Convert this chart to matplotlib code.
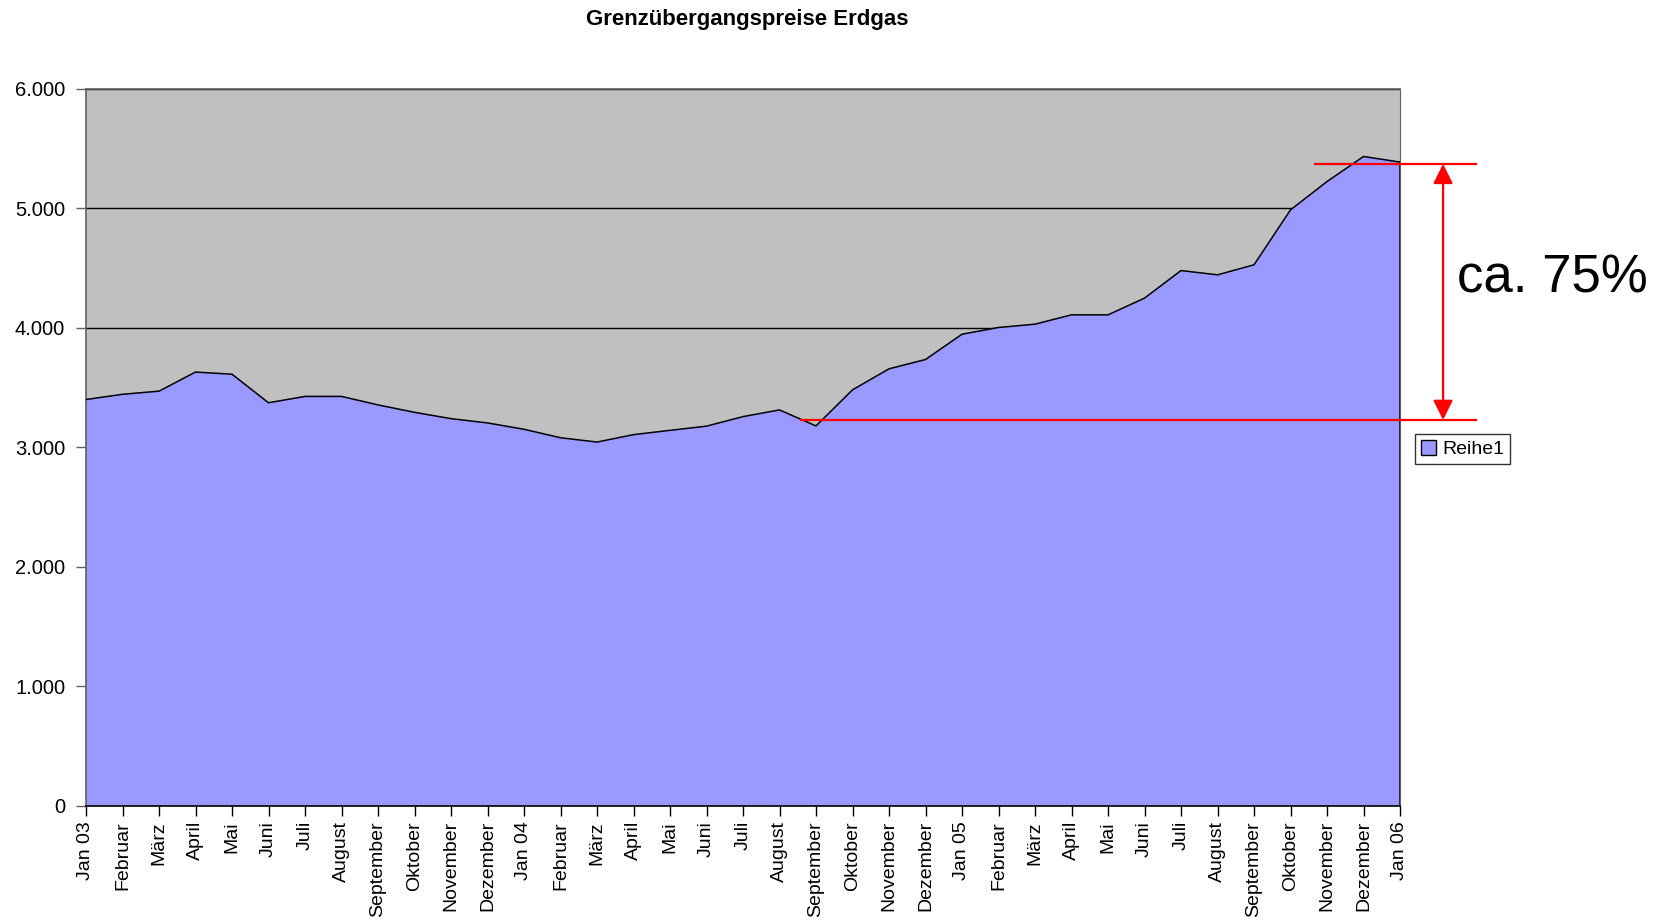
import matplotlib
matplotlib.use("Agg")
import matplotlib.pyplot as plt
from matplotlib.ticker import FuncFormatter, MultipleLocator
from matplotlib.patches import Patch

plt.rcParams['font.family'] = ['Liberation Sans', 'DejaVu Sans']

labels = ["Jan 03", "Februar", "März", "April", "Mai", "Juni", "Juli", "August",
          "September", "Oktober", "November", "Dezember",
          "Jan 04", "Februar", "März", "April", "Mai", "Juni", "Juli", "August",
          "September", "Oktober", "November", "Dezember",
          "Jan 05", "Februar", "März", "April", "Mai", "Juni", "Juli", "August",
          "September", "Oktober", "November", "Dezember", "Jan 06"]
values = [3400, 3444, 3470, 3630, 3612, 3373, 3426, 3426, 3355, 3293, 3240, 3204,
          3151, 3080, 3044, 3106, 3142, 3177, 3257, 3313, 3179, 3481, 3657, 3735,
          3947, 4003, 4031, 4109, 4109, 4249, 4480, 4444, 4528, 4988, 5225, 5435, 5388]
series_name = "Reihe1"
low_ref = 3229
high_ref = 5373
annotation_text = "ca. 75%"

W, H = 1662, 923
fig = plt.figure(figsize=(W / 100, H / 100), dpi=100)
ax = fig.add_axes([86 / W, (H - 805.6) / H, (1400 - 86) / W, (805.6 - 89) / H])
ax.set_facecolor("#C0C0C0")

x = list(range(len(values)))
ax.fill_between(x, 0, values, facecolor="#9999FF", edgecolor="none", zorder=2)
ax.plot(x, values, color="black", lw=1.1, zorder=3)
ax.plot([x[-1], x[-1]], [0, values[-1]], color="black", lw=1.1, zorder=3)

ax.set_xlim(0, len(values) - 1)
ax.set_ylim(0, 6000)
ax.yaxis.set_major_locator(MultipleLocator(1000))
ax.yaxis.set_major_formatter(FuncFormatter(lambda v, p: f"{int(v):,}".replace(",", ".")))
ax.grid(axis="y", color="black", lw=1.0, zorder=1)
ax.set_axisbelow(True)

ax.set_xticks(x)
ax.set_xticklabels(labels, rotation=90, fontsize=14)
ax.tick_params(axis="y", labelsize=14.5, length=7, width=1, color="#606060", pad=8)
ax.tick_params(axis="x", length=7, width=1, color="black", pad=4)

for s in ["top", "left"]:
    ax.spines[s].set_color("#606060")
    ax.spines[s].set_linewidth(1.2)
ax.spines["right"].set_color("#606060")
ax.spines["bottom"].set_color("black")
ax.spines["bottom"].set_linewidth(1.2)

# title
fig.text(747.5 / W, 1 - 20 / H, "Grenzübergangspreise Erdgas", ha="center", va="center",
         fontsize=16, fontweight="bold")

# red reference lines
n = len(values) - 1
ax.plot([19.6, n + 2.08], [low_ref, low_ref], color="red", lw=1.6, clip_on=False, zorder=5)
ax.plot([33.67, n + 2.08], [high_ref, high_ref], color="red", lw=1.6, clip_on=False, zorder=5)
ax.annotate("", xy=(n + 1.18, low_ref), xytext=(n + 1.18, high_ref),
            arrowprops=dict(arrowstyle="<|-|>", color="red", lw=1.6,
                            mutation_scale=30, shrinkA=0, shrinkB=0),
            annotation_clip=False, zorder=5)
ax.text(n + 1.56, (low_ref + high_ref) / 2 + 110, annotation_text, fontsize=38,
        ha="left", va="center", clip_on=False)

leg = ax.legend(handles=[Patch(facecolor="#9999FF", edgecolor="black", label=series_name)],
                loc="upper left", bbox_to_anchor=(1415 / W, 1 - 434 / H),
                bbox_transform=fig.transFigure, fontsize=14, frameon=True, fancybox=False,
                borderpad=0.3, handlelength=0.8, handleheight=0.8, handletextpad=0.3,
                borderaxespad=0)
leg.get_frame().set_edgecolor("black")
leg.get_frame().set_linewidth(1.0)

fig.savefig("out.png", dpi=100)
